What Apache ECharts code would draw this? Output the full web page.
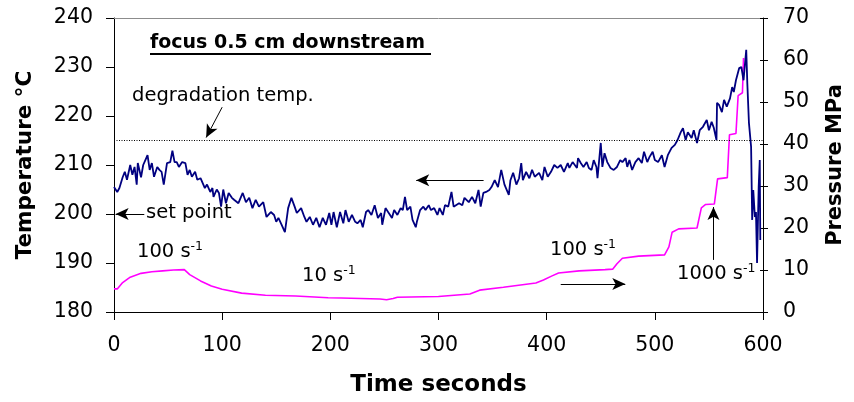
<!DOCTYPE html>
<html>
<head>
<meta charset="utf-8">
<script src="https://cdn.jsdelivr.net/npm/echarts@6/dist/echarts.min.js"></script>
<style>
html,body{margin:0;padding:0;background:#fff;}
#chart{width:854px;height:402px;}
</style>
</head>
<body>
<div id="chart"></div>
<script>
// ---- data ----
const tempTime = [0,1,3,5,8,10,12,15,17,19,21,22,25,27,29,31,33,35,37,40,42,44,46,49,52,54,56,58,60,63,66,68,70,72,75,77,80,82,84,86,89,91,92,95,97,99,101,103.5,106,109,111,115,119,122,125,128,131,134,138,141,145,148,150,152,155,158,161,164,167,169,173,176,178,181,184,187,190,193,196,199,201,203,206,209,212,214,217,220,223,225,228,230,233,235,238,241,244,247,248,251,254,257,259,262,265,267,269,271,274,276,279,280,283,286,288,291,293,296,299,301,304,306,309,312,314,319,322,324,328,331,334,337,339,341.5,344,347,349,352,355,358,361,365,366.5,369,372,374.5,376.5,378,381,384,386.5,389,393,396,398,401,404,407,410,413,416,419.5,421,424,428,429,431.5,434,437,439,441.5,443.5,446,447,450,451.5,453.5,456,459,462,465,468,470,473,474.5,476.5,479,482,485,488,490,493,495,498,500,503,506.5,509,512,515.5,518.5,521,524,526,528.5,530.5,534,536,539,541.5,544.5,548,550,552.5,554.5,557,557.5,559.5,562,564,566.5,569.5,571.5,573,575,578,580,582,584.5,585.5,587,589,590,591,592.5,593.5,594.5,596,597,597.5];
const tempValue = [205.5,205.5,204.5,205.3,207.5,208.6,207,210,208,209.6,206,210.4,207.5,210,211,212,209,210.4,207.6,209.6,209,208.6,206,210.4,210.6,212.9,210.6,210.6,209.6,210.6,210.4,208,209,207.6,208.6,207,207.3,206.3,205.3,206,204.5,205.3,203.5,205,204.3,201.5,205,202.2,204.3,203.3,202.9,202.2,204.3,202.4,203.3,201.2,202.9,201.5,202.4,199.4,200.4,199.8,198.4,199.2,197.8,196.3,201.2,203.3,201.5,200.2,201.2,199.4,198.4,199.4,197.8,199.2,197.3,199.2,197.8,200.2,197.8,200.4,197.3,200.4,198.1,200.8,198.4,199.8,198.4,198.1,198.8,197.3,200.4,200.8,199.8,201.8,199.2,200.2,197.8,201.2,200.2,199.2,200.8,199.8,201.2,200.8,203.5,200.8,201.5,198.8,197.3,198.4,200.8,201.5,200.8,201.8,200.8,201.2,199.8,201.2,199.8,201.8,201.5,204.5,201.5,202.2,201.8,203.3,202.4,203.5,202.2,204.9,201.5,204.3,204.5,204.9,205.5,206.9,205.5,209,206,203.9,206.9,208.4,206,207.3,210.4,206.9,208.6,207.3,209,207.6,208.4,206.9,209.6,207.6,208.6,210,209.4,210,208.6,210.4,209.4,210.6,209.4,211.4,210.4,209.6,210.6,209.4,209,211,209.6,207.3,214.5,209.6,212.4,210.6,209.4,209,209.6,211,210.6,211.4,209.6,211,209,210.6,211.4,210.4,212.7,210.6,211.6,212.7,211,210.6,212,209.6,212,213.5,214.1,215.1,216.7,217.5,215.1,216.7,215.5,217.1,214.5,217.1,217.8,219.2,217.1,218.8,217.6,215.1,222.7,222.2,220.8,223.3,221.9,223.6,225.9,224.9,227.3,229.8,230,227.3,233.5,226.7,218.6,213.7,198.8,204.9,199.4,200.4,190,205.5,211,194.7];

const presTime = [0,3,8,15,25,35,45,55,65,70,80,90,100,118,140,168,198,210,246,252,258,262,300,329,338,360,390,397,405,411,430,454,461,465,470,485,509,513,516,522,539,543,547,555,558,567,569,575,577,581,582];
const presValue = [5.5,5.5,7,8.3,9.2,9.6,9.8,10,10.1,8.9,7.4,6.2,5.4,4.5,4.0,3.8,3.4,3.35,3.1,2.9,3.2,3.5,3.7,4.3,5.2,5.9,6.9,7.6,8.6,9.3,9.8,10.1,10.2,11.5,12.8,13.3,13.6,15.5,19.0,19.8,20.0,24.8,25.6,25.7,31.7,32.0,42.2,42.5,51.5,52.2,60.5];

const degradationTemp = 215;
const xMin = 0, xMax = 600, xStep = 100;
const tMin = 180, tMax = 240, tStep = 10;
const pMin = 0, pMax = 70, pStep = 10;

// annotation arrows in data coordinates: [fromX, fromY, toX, toY]
const arrowDegr = [100, 221.8, 85.2, 215.6];
const arrowSet = [28, 200, 1.5, 200];
const arrowLeft = [341.7, 206.9, 279.4, 206.9];
const arrowRight = [413, 6.67, 472.7, 6.67];
const arrowUp = [554.2, 12.4, 554.2, 25];

const FONT = 'DejaVu Sans';
const TICK = 20.5;
const tempData = tempTime.map((t, i) => [t, tempValue[i]]);
const presData = presTime.map((t, i) => [t, presValue[i]]);

function arrowLine(a) {
  return [{ coord: [a[0], a[1]] }, { coord: [a[2], a[3]] }];
}
function supText(x, y, main) {
  return {
    type: 'text', left: x, top: y,
    style: {
      text: '{n|' + main + '}{s|-1}',
      rich: {
        n: { fontSize: 19.5, fontFamily: FONT, lineHeight: 24, fill: '#000' },
        s: { fontSize: 12.5, fontFamily: FONT, lineHeight: 12, verticalAlign: 'top', fill: '#000' }
      }
    }
  };
}

const gridBox = { left: 114, right: 87, top: 18, bottom: 90 };
const chart = echarts.init(document.getElementById('chart'), null, { renderer: 'canvas' });
chart.setOption({
  animation: false,
  backgroundColor: '#fff',
  grid: [Object.assign({}, gridBox), Object.assign({}, gridBox)],
  xAxis: [{
    gridIndex: 0, type: 'value', min: xMin, max: xMax, interval: xStep,
    name: 'Time seconds', nameLocation: 'middle', nameGap: 62,
    nameTextStyle: { fontFamily: FONT, fontSize: 23, fontWeight: 'bold', color: '#000' },
    axisLine: { onZero: false, lineStyle: { color: '#000', width: 1 } },
    axisTick: { show: true, inside: false, length: 8, lineStyle: { color: '#000' } },
    axisLabel: { fontFamily: FONT, fontSize: TICK, color: '#000', margin: 23 },
    splitLine: { show: false }
  }, {
    gridIndex: 0, type: 'value', min: xMin, max: xMax, position: 'top',
    axisLine: { show: true, onZero: false, lineStyle: { color: '#8c8c8c', width: 1 } },
    axisTick: { show: false }, axisLabel: { show: false }, splitLine: { show: false }
  }, {
    gridIndex: 1, type: 'value', min: xMin, max: xMax, show: false
  }],
  yAxis: [{
    gridIndex: 0, type: 'value', min: tMin, max: tMax, interval: tStep, position: 'left',
    name: 'Temperature °C', nameLocation: 'middle', nameGap: 78, nameRotate: 90,
    nameTextStyle: { fontFamily: FONT, fontSize: 21.5, fontWeight: 'bold', color: '#000' },
    axisLine: { show: true, onZero: false, lineStyle: { color: '#000', width: 1 } },
    axisTick: { show: true, inside: false, length: 8, lineStyle: { color: '#000' } },
    axisLabel: { fontFamily: FONT, fontSize: TICK, color: '#000', margin: 21 },
    splitLine: { show: false }
  }, {
    gridIndex: 0, type: 'value', min: pMin, max: pMax, interval: pStep, position: 'right',
    name: 'Pressure MPa', nameLocation: 'middle', nameGap: 62, nameRotate: 90,
    nameTextStyle: { fontFamily: FONT, fontSize: 21, fontWeight: 'bold', color: '#000' },
    axisLine: { show: true, onZero: false, lineStyle: { color: '#000', width: 1 } },
    axisTick: { show: true, inside: false, length: 5, lineStyle: { color: '#000' } },
    axisLabel: { fontFamily: FONT, fontSize: TICK, color: '#000', margin: 20 },
    splitLine: { show: false }
  }, {
    gridIndex: 1, type: 'value', min: pMin, max: pMax, interval: pStep, position: 'right',
    axisLine: { show: false, onZero: false },
    axisTick: { show: true, inside: true, length: 7, lineStyle: { color: '#000' } },
    axisLabel: { show: false }, splitLine: { show: false }
  }],
  series: [{
    name: 'Temperature', type: 'line', xAxisIndex: 0, yAxisIndex: 0,
    data: tempData, showSymbol: false, symbol: 'none', z: 3,
    lineStyle: { color: '#000080', width: 1.8 },
    markLine: {
      silent: true, symbol: ['none', 'none'], label: { show: false },
      lineStyle: { color: '#000', type: [1, 1.5], width: 1 },
      data: [{ yAxis: degradationTemp }]
    }
  }, {
    name: 'Pressure', type: 'line', xAxisIndex: 0, yAxisIndex: 1,
    data: presData, showSymbol: false, symbol: 'none', z: 2,
    lineStyle: { color: '#ff00ff', width: 1.6 }
  }, {
    name: 'arrowsT', type: 'line', xAxisIndex: 0, yAxisIndex: 0, data: [],
    markLine: {
      silent: true, symbol: ['none', 'arrow'], symbolSize: [9, 13],
      label: { show: false },
      lineStyle: { color: '#000', type: 'solid', width: 1 },
      data: [arrowLine(arrowDegr), arrowLine(arrowSet), arrowLine(arrowLeft)]
    }
  }, {
    name: 'arrowsP', type: 'line', xAxisIndex: 0, yAxisIndex: 1, data: [],
    markLine: {
      silent: true, symbol: ['none', 'arrow'], symbolSize: [9, 13],
      label: { show: false },
      lineStyle: { color: '#000', type: 'solid', width: 1 },
      data: [arrowLine(arrowRight), arrowLine(arrowUp)]
    }
  }, {
    name: 'ticksP', type: 'line', xAxisIndex: 2, yAxisIndex: 2, data: []
  }],
  graphic: [
    { type: 'text', left: 150, top: 34,
      style: { text: 'focus 0.5 cm downstream', fontFamily: FONT, fontSize: 19, fontWeight: 'bold', fill: '#000' } },
    { type: 'rect', left: 150, top: 53, shape: { width: 281, height: 2 }, style: { fill: '#000' } },
    { type: 'text', left: 132, top: 86,
      style: { text: 'degradation temp.', fontFamily: FONT, fontSize: 19.5, fill: '#000' } },
    { type: 'text', left: 146, top: 203,
      style: { text: 'set point', fontFamily: FONT, fontSize: 19.5, fill: '#000' } },
    supText(137, 240, '100 s'),
    supText(302, 264, '10 s'),
    supText(550, 238, '100 s'),
    supText(677, 262, '1000 s')
  ]
});
</script>
</body>
</html>
